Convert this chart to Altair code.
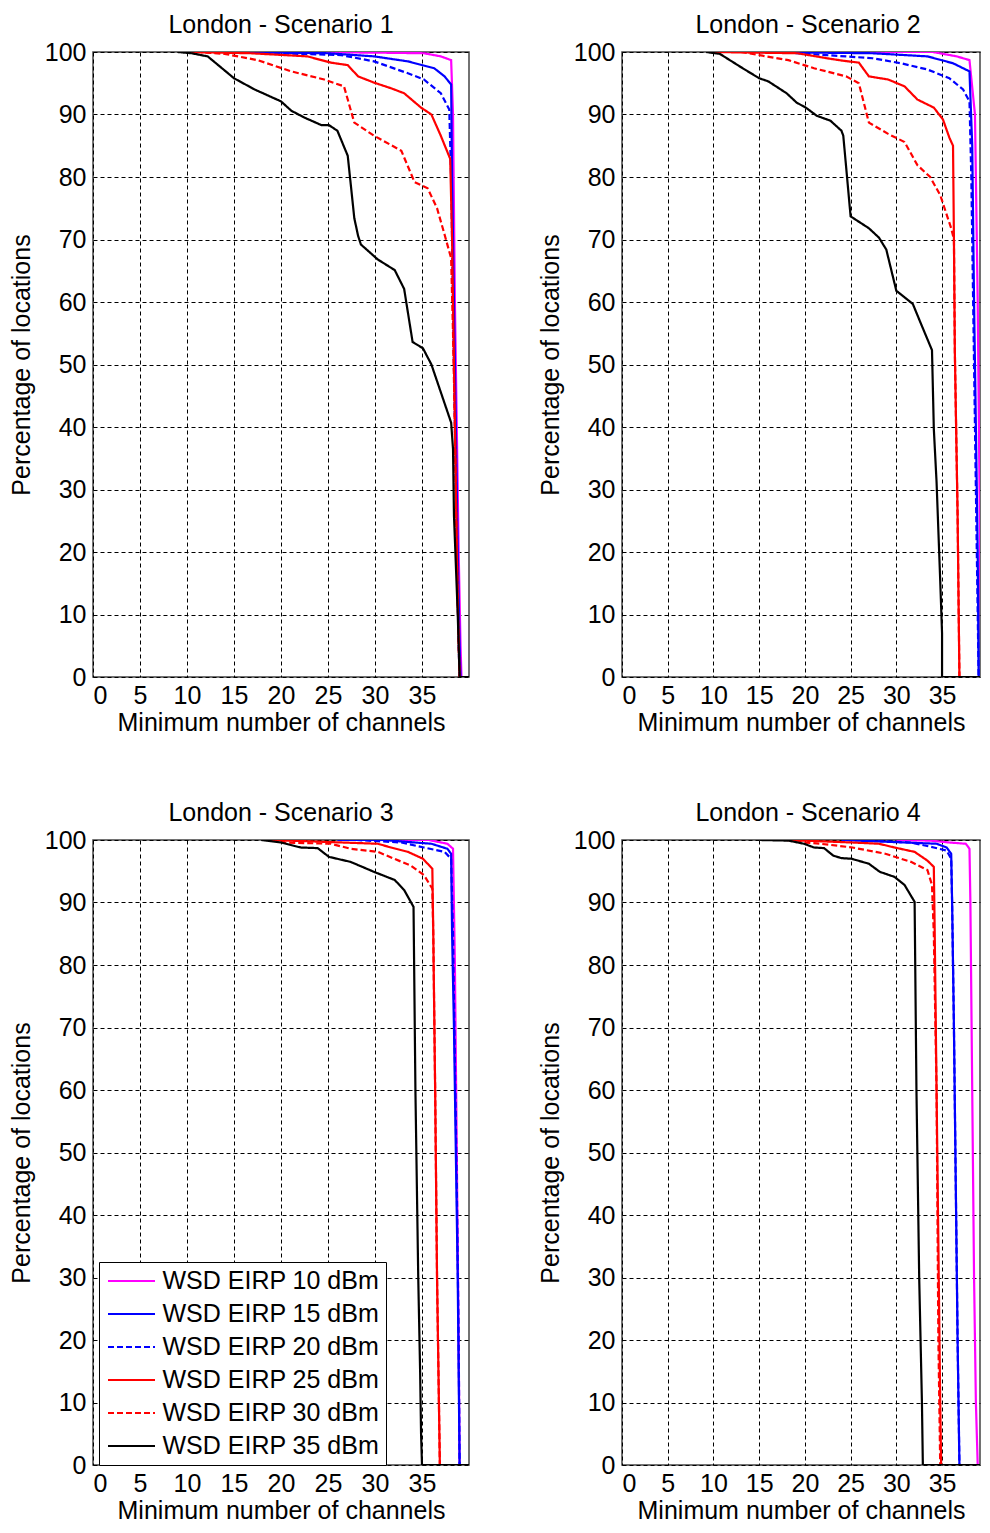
import altair as alt
import pandas as pd

FONT = "Liberation Sans, Arial, sans-serif"

SERIES = ["WSD EIRP 10 dBm", "WSD EIRP 15 dBm", "WSD EIRP 20 dBm",
          "WSD EIRP 25 dBm", "WSD EIRP 30 dBm", "WSD EIRP 35 dBm"]
COLORS = ["#ff00ff", "#0000ff", "#0000ff", "#ff0000", "#ff0000", "#000000"]
DASHES = [[1, 0], [1, 0], [6, 3], [1, 0], [6, 3], [1, 0]]
PANELS = ["London - Scenario 1", "London - Scenario 2",
          "London - Scenario 3", "London - Scenario 4"]
X_TICKS = [0, 5, 10, 15, 20, 25, 30, 35]
Y_TICKS = [0, 10, 20, 30, 40, 50, 60, 70, 80, 90, 100]

# ---------------- Scenario 1 ----------------
s1_10_x = [20, 30, 35.2, 37.0, 38.1, 38.3, 38.5, 38.7, 38.9, 39.1, 39.2, 40]
s1_10_y = [100, 99.9, 99.8, 99.3, 98.7, 90, 60, 40, 20, 5, 0, 0]
s1_15_x = [14, 25, 29.9, 33.5, 36.3, 37.4, 38.1, 38.2, 38.4, 38.6, 38.8, 39.0, 39.1, 40]
s1_15_y = [100, 99.8, 99.3, 98.5, 97.4, 96.1, 94.8, 80, 60, 40, 20, 5, 0, 0]
s1_20_x = [14.5, 26.4, 29.9, 33.5, 35.2, 37.0, 37.9, 38.1, 38.3, 38.5, 38.7, 38.9, 39.0, 40]
s1_20_y = [100, 99.5, 98.5, 96.6, 95.6, 93.4, 90.8, 80, 60, 40, 20, 5, 0, 0]
s1_25_x = [10, 16.8, 22.8, 25.3, 27.1, 28.2, 29.9, 31.7, 33.1, 34.9, 36.0, 37.0, 38.0,
           38.2, 38.4, 38.6, 38.8, 39.0, 40]
s1_25_y = [100, 99.8, 99.3, 98.3, 97.9, 96.1, 95.1, 94.2, 93.4, 91.1, 90.0, 86.6, 82.9,
           70, 50, 30, 12, 0, 0]
s1_30_x = [11, 14, 17.5, 21.1, 24.6, 26.7, 27.8, 29.9, 32.8, 34.2, 35.6, 36.6, 37.4,
           38.1, 38.3, 38.5, 38.7, 38.9, 39.0, 40]
s1_30_y = [100, 99.7, 98.7, 96.9, 95.6, 94.5, 88.7, 86.6, 84.2, 79.2, 78.2, 75, 70.8,
           67, 55, 40, 20, 5, 0, 0]
s1_35_x = [9.0, 10.5, 11.5, 12.2, 15.0, 17.2, 20.0, 21.1, 22.5, 24.3, 25.1, 26.0, 27.1,
           27.8, 28.2, 28.5, 30.3, 32.1, 33.1, 34.0, 35.1, 36.0, 38.1, 38.3, 38.4,
           38.8, 39.0, 40]
s1_35_y = [100, 99.8, 99.5, 99.3, 95.8, 94.0, 92.1, 90.6, 89.5, 88.3, 88.3, 87.4, 83.4,
           73.4, 70.6, 69.2, 66.8, 65.1, 62.1, 53.6, 52.6, 50.0, 40.7, 36.5, 25.9,
           10.1, 0, 0]

# ---------------- Scenario 2 ----------------
s2_10_x = [25, 34, 36.6, 38.0, 38.6, 38.9, 39.1, 39.3, 40]
s2_10_y = [100, 100, 99.3, 98.7, 90, 60, 30, 0, 0]
s2_15_x = [14.6, 27.4, 33.4, 36.2, 38.0, 38.3, 38.5, 38.7, 38.9, 39.0, 40]
s2_15_y = [100, 99.8, 99.3, 98.2, 96.9, 85, 60, 40, 20, 0, 0]
s2_20_x = [17, 22.4, 27.4, 30.5, 33.4, 35.8, 37.3, 38.0, 38.2, 38.4, 38.6, 38.8, 39.0, 40]
s2_20_y = [100, 99.5, 99.0, 98.2, 97.2, 95.8, 94.0, 92.1, 80, 60, 40, 20, 0, 0]
s2_25_x = [9.9, 19.2, 22.4, 24.2, 25.9, 27.0, 29.1, 30.9, 32.3, 34.1, 35.1, 35.8, 36.2,
           36.3, 36.4, 36.7, 36.9, 40]
s2_25_y = [100, 99.8, 99.0, 98.6, 98.3, 96.1, 95.6, 94.5, 92.4, 91.1, 89.2, 86.3, 85.0,
           70, 52, 26, 0, 0]
s2_30_x = [13, 15, 18.2, 21.0, 24.5, 25.9, 27.0, 29.1, 30.9, 32.3, 33.7, 34.8, 36.0,
           36.3, 36.4, 36.7, 36.9, 40]
s2_30_y = [100, 99.5, 98.7, 97.4, 96.1, 95.0, 88.7, 86.9, 85.6, 81.9, 80.0, 77.1, 71.8,
           70, 52, 26, 0, 0]
s2_35_x = [9.2, 10.7, 13.2, 15.0, 16.0, 18.0, 19.1, 20.1, 21.3, 22.8, 24.0, 24.2, 25.0,
           27.0, 28.1, 28.9, 30.0, 31.8, 32.7, 33.9, 34.1, 34.4, 34.8, 35.0, 35.0, 40]
s2_35_y = [100, 99.7, 97.4, 95.8, 95.3, 93.4, 91.9, 91.1, 89.8, 89.0, 87.4, 86.6, 73.7,
           71.8, 70.3, 68.4, 61.8, 59.7, 56.5, 52.3, 39.7, 31.2, 15.4, 7.0, 0, 0]

# ---------------- Scenario 3 ----------------
s3_10_x = [32, 35.7, 37.7, 38.3, 38.5, 38.7, 38.9, 39.0, 40]
s3_10_y = [100, 100, 99.4, 98.6, 80, 50, 20, 0, 0]
s3_15_x = [26, 30.8, 36.0, 37.7, 38.1, 38.2, 38.4, 38.6, 38.8, 38.9, 39.0, 40]
s3_15_y = [100, 100, 99.4, 98.6, 97.8, 85, 70, 50, 30, 15, 0, 0]
s3_20_x = [28, 32.8, 35.2, 37.4, 38.1, 38.3, 38.5, 38.7, 38.9, 39.0, 40]
s3_20_y = [100, 99.6, 98.8, 98.1, 97.0, 85, 65, 45, 20, 0, 0]
s3_25_x = [19, 30.3, 31.7, 33.5, 35.1, 36.1, 36.2, 36.4, 36.6, 36.8, 36.9, 40]
s3_25_y = [100, 99.4, 98.8, 98.1, 97.0, 95.4, 85, 60, 30, 10, 0, 0]
s3_30_x = [20, 20.4, 25.3, 27.4, 30.3, 33.8, 35.2, 36.1, 36.2, 36.4, 36.6, 36.8, 36.9, 40]
s3_30_y = [100, 99.6, 99.4, 98.6, 98.1, 95.9, 94.4, 92.2, 85, 60, 30, 10, 0, 0]
s3_35_x = [17.9, 20.0, 22.1, 23.9, 25.1, 27.4, 29.9, 32.1, 33.1, 34.1, 34.3, 34.6, 34.8,
           34.9, 35.0, 40]
s3_35_y = [100, 99.6, 98.8, 98.7, 97.3, 96.5, 94.9, 93.6, 92.0, 89.3, 60, 30, 15, 5, 0, 0]

# ---------------- Scenario 4 ----------------
s4_10_x = [30, 33.7, 35.8, 37.6, 38.0, 38.1, 38.3, 38.5, 38.7, 38.9, 40]
s4_10_y = [100, 99.9, 99.6, 99.4, 98.6, 90, 60, 30, 10, 0, 0]
s4_15_x = [24, 34.4, 35.5, 36.0, 36.1, 36.3, 36.5, 36.7, 36.9, 40]
s4_15_y = [100, 99.4, 98.8, 97.8, 90, 70, 45, 20, 0, 0]
s4_20_x = [26, 31.6, 34.1, 35.5, 36.0, 36.1, 36.3, 36.5, 36.7, 36.9, 40]
s4_20_y = [100, 99.6, 98.8, 98.3, 97.0, 90, 70, 45, 20, 0, 0]
s4_25_x = [18, 25.2, 28.1, 29.8, 32.0, 33.4, 34.1, 34.2, 34.4, 34.6, 34.8, 34.9, 40]
s4_25_y = [100, 99.6, 99.4, 98.8, 98.1, 96.7, 95.7, 85, 60, 35, 10, 0, 0]
s4_30_x = [19, 19.9, 21.7, 25.2, 28.8, 31.6, 33.4, 33.9, 34.1, 34.4, 34.6, 34.8, 40]
s4_30_y = [100, 99.6, 99.4, 98.8, 97.8, 96.5, 95.2, 92.8, 85, 60, 20, 0, 0]
s4_35_x = [15.1, 18.2, 19.9, 21.0, 22.1, 23.1, 24.0, 25.1, 27.0, 28.2, 29.8, 30.9, 32.0,
           32.2, 32.5, 32.8, 32.9, 40]
s4_35_y = [100, 99.9, 99.4, 98.8, 98.7, 97.5, 97.1, 97.0, 96.2, 94.9, 94.1, 92.8, 90.1,
           60, 30, 10, 0, 0]

PANEL_DATA = [
    [(s1_10_x, s1_10_y), (s1_15_x, s1_15_y), (s1_20_x, s1_20_y),
     (s1_25_x, s1_25_y), (s1_30_x, s1_30_y), (s1_35_x, s1_35_y)],
    [(s2_10_x, s2_10_y), (s2_15_x, s2_15_y), (s2_20_x, s2_20_y),
     (s2_25_x, s2_25_y), (s2_30_x, s2_30_y), (s2_35_x, s2_35_y)],
    [(s3_10_x, s3_10_y), (s3_15_x, s3_15_y), (s3_20_x, s3_20_y),
     (s3_25_x, s3_25_y), (s3_30_x, s3_30_y), (s3_35_x, s3_35_y)],
    [(s4_10_x, s4_10_y), (s4_15_x, s4_15_y), (s4_20_x, s4_20_y),
     (s4_25_x, s4_25_y), (s4_30_x, s4_30_y), (s4_35_x, s4_35_y)],
]

rows = []
for p, panel_series in enumerate(PANEL_DATA):
    for s, (xs, ys) in enumerate(panel_series):
        for i, (xv, yv) in enumerate(zip(xs, ys)):
            rows.append({"panel": PANELS[p], "series": SERIES[s], "x": xv, "y": yv, "i": i})
df = pd.DataFrame(rows)

# long, thin legend line symbol (path spans 2x the nominal symbol diameter)
LEGEND = alt.Legend(title=None, orient="none", legendX=6, legendY=1210,
                    symbolType="M-2,0H2", symbolSize=552, symbolStrokeWidth=2,
                    symbolOffset=13.5,
                    labelFont=FONT, labelFontSize=25, labelColor="black",
                    labelOffset=18, labelLimit=0, rowPadding=7, padding=6,
                    strokeColor="black", fillColor="white", cornerRadius=0)

PLOT_H = 625
RIGHT_W = 358


def make_panel(k, width, xmax, dx):
    sub = df[df["panel"] == PANELS[k]]
    return alt.Chart(sub).mark_line(strokeWidth=2.2, clip=True).encode(
        x=alt.X("x:Q", scale=alt.Scale(domain=[0, xmax], nice=False, zero=False),
                axis=alt.Axis(values=X_TICKS, title="Minimum number of channels")),
        y=alt.Y("y:Q", scale=alt.Scale(domain=[0, 100], nice=False),
                axis=alt.Axis(values=Y_TICKS, title="Percentage of locations")),
        color=alt.Color("series:N", scale=alt.Scale(domain=SERIES, range=COLORS),
                        legend=LEGEND),
        strokeDash=alt.StrokeDash("series:N", scale=alt.Scale(domain=SERIES, range=DASHES),
                                  legend=LEGEND),
        order=alt.Order("i:Q"),
    ).properties(
        width=width, height=PLOT_H,
        title=alt.TitleParams(PANELS[k], frame="group", anchor="middle", dx=dx),
    )


top = alt.hconcat(make_panel(0, 376, 40, 0), make_panel(1, RIGHT_W, 39.15, 7), spacing=67)
bottom = alt.hconcat(make_panel(2, 376, 40, 0), make_panel(3, RIGHT_W, 39.15, 7), spacing=67)

chart = alt.vconcat(top, bottom, spacing=64).properties(
    padding={"left": 0, "top": 4, "right": 0, "bottom": 0}
).configure_axis(
    labelFont=FONT, titleFont=FONT, labelFontSize=25, titleFontSize=25,
    titleFontWeight="normal", labelColor="black", titleColor="black",
    grid=True, gridColor="black", gridDash=[4, 3], gridWidth=1, gridOpacity=1,
    domain=False, ticks=False,
).configure_axisX(
    labelPadding=6, titlePadding=2,
).configure_axisY(
    labelPadding=7, titlePadding=10,
).configure_view(
    stroke="#444444", strokeWidth=1.5,
).configure_title(
    font=FONT, fontSize=25, fontWeight="normal", color="black", offset=2,
    baseline="bottom",
)

chart.save("out.html", embed_options={"renderer": "svg", "actions": False})
